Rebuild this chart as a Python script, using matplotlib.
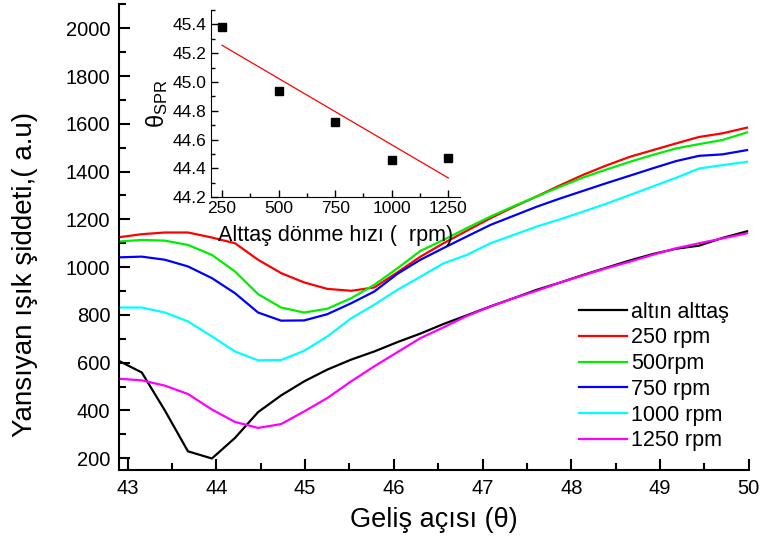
import numpy as np
import matplotlib
matplotlib.use("Agg")
import matplotlib.pyplot as plt

plt.rcParams['font.family'] = ['Liberation Sans', 'DejaVu Sans']
plt.rcParams['mathtext.fontset'] = 'custom'
plt.rcParams['mathtext.rm'] = 'Liberation Sans'
plt.rcParams['mathtext.it'] = 'Liberation Sans'

# gelis acisi (derece)
theta = [42.90, 43.16, 43.42, 43.68, 43.95, 44.21, 44.47, 44.73, 44.99, 45.25,
         45.52, 45.78, 46.04, 46.30, 46.56, 46.82, 47.09, 47.35, 47.61, 47.87,
         48.13, 48.39, 48.66, 48.92, 49.18, 49.44, 49.70, 49.98]

altin = [608, 559, 400, 229, 199, 285, 393, 463, 522, 571,
         613, 647, 686, 722, 762, 798, 836, 870, 905, 935,
         967, 997, 1028, 1055, 1077, 1090, 1122, 1150]
rpm250 = [1125, 1138, 1145, 1145, 1124, 1100, 1031, 975, 936, 909,
          901, 915, 978, 1044, 1100, 1152, 1205, 1252, 1296, 1342,
          1386, 1425, 1462, 1490, 1518, 1545, 1560, 1584]
rpm500 = [1107, 1114, 1111, 1093, 1051, 982, 887, 831, 810, 826,
          870, 926, 995, 1068, 1114, 1163, 1212, 1255, 1296, 1336,
          1375, 1408, 1441, 1470, 1497, 1515, 1532, 1564]
rpm750 = [1041, 1044, 1031, 1003, 954, 891, 810, 776, 777, 803,
          849, 898, 972, 1031, 1080, 1128, 1177, 1215, 1253, 1287,
          1319, 1351, 1383, 1414, 1444, 1466, 1472, 1490]
rpm1000 = [831, 831, 810, 773, 710, 647, 610, 611, 650, 710,
           786, 843, 905, 960, 1016, 1051, 1100, 1135, 1170, 1200,
           1232, 1265, 1302, 1338, 1374, 1413, 1427, 1441]
rpm1250 = [533, 526, 504, 469, 404, 352, 327, 343, 396, 452,
           522, 585, 644, 703, 748, 795, 835, 870, 901, 935,
           965, 995, 1023, 1052, 1079, 1100, 1120, 1142]

# inset: donme hizi - theta_SPR
hiz = [250, 500, 750, 1000, 1250]
theta_spr = [45.38, 44.94, 44.72, 44.46, 44.47]

fig = plt.figure(figsize=(7.61, 5.48), dpi=100)
ax = fig.add_axes([0.156, 0.142, 0.828, 0.850])

ax.plot(theta, altin, color='black', lw=1.6, label='altın alttaş')
ax.plot(theta, rpm250, color='#ff0000', lw=1.6, label='250 rpm')
ax.plot(theta, rpm500, color='#00ee00', lw=1.6, label='500rpm')
ax.plot(theta, rpm750, color='#0000ff', lw=1.6, label='750 rpm')
ax.plot(theta, rpm1000, color='#00ffff', lw=1.6, label='1000 rpm')
ax.plot(theta, rpm1250, color='#ff00ff', lw=1.6, label='1250 rpm')

ax.set_xlim(42.9, 50)
ax.set_ylim(150, 2100)
ax.set_xticks(range(43, 51))
ax.set_xticks(np.arange(43, 50.01, 0.5), minor=True)
ax.set_yticks(range(200, 2001, 200))
ax.set_yticks(range(200, 2101, 100), minor=True)
ax.spines['top'].set_visible(False)
ax.spines['right'].set_visible(False)
for s in ['left', 'bottom']:
    ax.spines[s].set_linewidth(1.5)
ax.tick_params(which='major', direction='in', length=8, width=1.5, labelsize=14.5, pad=6)
ax.tick_params(which='minor', direction='in', length=5, width=1.5)

ax.set_xlabel('Geliş açısı (θ)', fontsize=19.5, labelpad=7)
ax.set_ylabel('Yansıyan ışık şiddeti,( a.u)', fontsize=20)
ax.yaxis.set_label_coords(-0.128, 0.42)

ax.legend(loc='upper left', bbox_to_anchor=(0.731, 0.362), frameon=False,
          fontsize=15.5, handlelength=2.2, handletextpad=0.2,
          labelspacing=0.22, borderaxespad=0, borderpad=0)

# inset
ins = fig.add_axes([0.277, 0.640, 0.327, 0.342])
ins.plot(hiz, theta_spr, 's', color='black', ms=6)
k = np.polyfit(hiz, theta_spr, 1)
ins.plot(hiz, np.polyval(k, hiz), color='red', lw=0.9)
ins.set_xlim(200, 1300)
ins.set_ylim(44.2, 45.5)
ins.set_xticks(hiz)
ins.set_xticks([375, 625, 875, 1125], minor=True)
ins.set_yticks([44.2, 44.4, 44.6, 44.8, 45.0, 45.2, 45.4])
ins.set_yticks([44.3, 44.5, 44.7, 44.9, 45.1, 45.3, 45.5], minor=True)
ins.spines['top'].set_visible(False)
ins.spines['right'].set_visible(False)
ins.tick_params(which='major', direction='in', length=5, width=1, labelsize=12.5, pad=3)
ins.tick_params(which='minor', direction='in', length=3, width=1)
ins.set_xlabel('Alttaş dönme hızı (  rpm)', fontsize=15.5, labelpad=6)
ins.set_ylabel(r'θ$_{\rm SPR}$', fontsize=17, labelpad=2)

fig.savefig('out.png', dpi=100)
